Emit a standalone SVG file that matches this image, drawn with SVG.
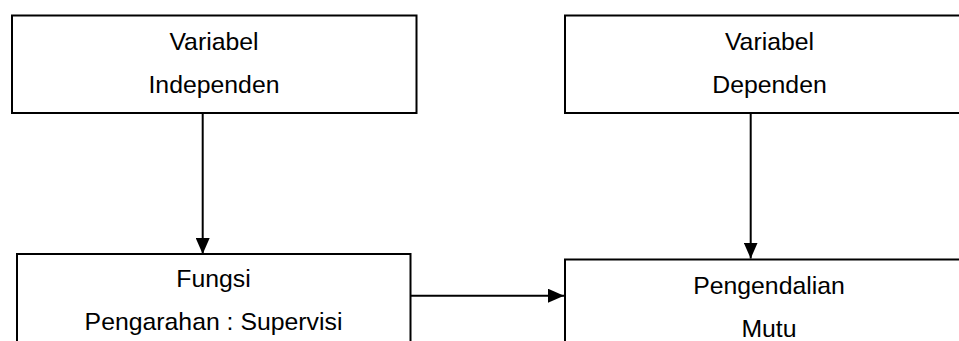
<svg xmlns="http://www.w3.org/2000/svg" width="959" height="341" viewBox="0 0 959 341">
  <defs>
    <style>
      .box { fill: #ffffff; stroke: #000000; stroke-width: 2; }
      .lbl { font-family: "Liberation Sans", Arial, sans-serif; font-size: 24.8px; fill: #000000; text-anchor: middle; }
      .conn { stroke: #000000; stroke-width: 2; fill: none; }
    </style>
    <marker id="arrow" markerUnits="userSpaceOnUse" markerWidth="16" markerHeight="14" viewBox="0 0 16 14" refX="16" refY="7" orient="auto">
      <path d="M0,0 L16,7 L0,14 Z" fill="#000000"/>
    </marker>
  </defs>
  <rect width="959" height="341" fill="#ffffff"/>
  <g id="node-independen">
    <rect class="box" x="12" y="15.5" width="404.5" height="97.5"/>
    <text class="lbl" x="214" y="49.5">Variabel</text>
    <text class="lbl" x="214" y="92.5">Independen</text>
  </g>
  <g id="node-dependen">
    <rect class="box" x="565" y="15.5" width="410" height="97.5"/>
    <text class="lbl" x="769.5" y="49.5">Variabel</text>
    <text class="lbl" x="769.5" y="92.5">Dependen</text>
  </g>
  <g id="node-fungsi">
    <rect class="box" x="17" y="254" width="393.5" height="110"/>
    <text class="lbl" x="213.5" y="287">Fungsi</text>
    <text class="lbl" x="213.5" y="330">Pengarahan : Supervisi</text>
  </g>
  <g id="node-mutu">
    <rect class="box" x="565" y="259.5" width="410" height="110"/>
    <text class="lbl" x="769" y="293.5">Pengendalian</text>
    <text class="lbl" x="769" y="336.5">Mutu</text>
  </g>
  <g id="connectors">
    <line class="conn" x1="202.7" y1="113" x2="202.7" y2="254" marker-end="url(#arrow)"/>
    <line class="conn" x1="750.7" y1="113" x2="750.7" y2="258.5" marker-end="url(#arrow)"/>
    <line class="conn" x1="410.5" y1="295.7" x2="564" y2="295.7" marker-end="url(#arrow)"/>
  </g>
</svg>
